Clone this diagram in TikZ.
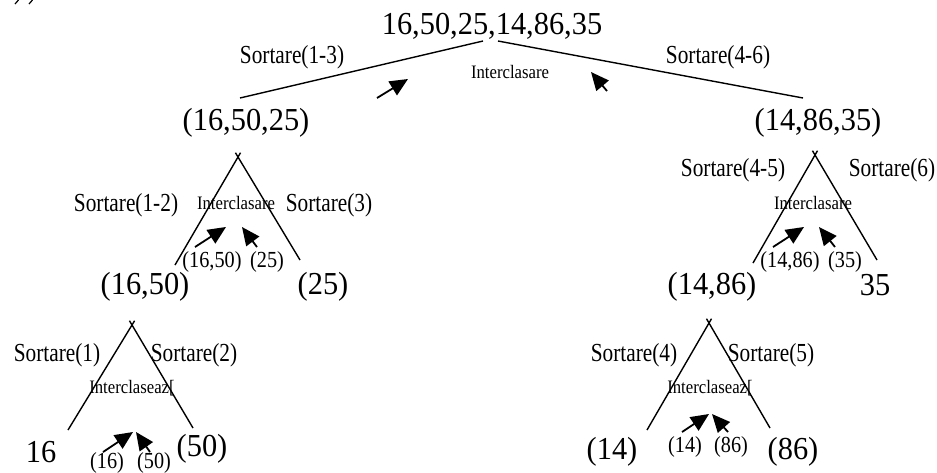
\documentclass[tikz,border=0pt]{standalone}
\usepackage{fontspec}
\setmainfont{Liberation Serif}
\newfontfamily\bigfont{Liberation Serif}[FakeStretch=0.95]
\newfontfamily\condfont{Liberation Serif}[FakeStretch=0.82]
\newfontfamily\smallcond{Liberation Serif}[FakeStretch=0.88]
\usetikzlibrary{arrows.meta}
\begin{document}
\begin{tikzpicture}[x=1pt,y=-1pt,
  big/.style={font=\bigfont\fontsize{32}{32}\selectfont, inner sep=0pt},
  lbl/.style={font=\condfont\fontsize{26}{26}\selectfont, inner sep=0pt},
  sub/.style={font=\smallcond\fontsize{23}{23}\selectfont, inner sep=0pt},
  merge/.style={font=\smallcond\fontsize{19}{19}\selectfont, inner sep=0pt},
  branch/.style={line width=1.4pt},
  apexline/.style={line width=1.4pt, shorten <=-5pt},
  feed/.style={line width=1.8pt, -{Triangle[length=18pt,width=16pt]}}]
\useasboundingbox (0,0) rectangle (937,472);

% clipped marks in the top-left corner
\draw[line width=1.2pt] (15,4) -- (18.5,0);
\draw[line width=1.2pt] (29,4) -- (32.5,0);

% ---------- root ----------
\node[big] (root) at (492,26) {16,50,25,14,86,35};
\node[big] (l1) at (246,123) {(16,50,25)};
\node[big] (r1) at (818,123) {(14,86,35)};
\coordinate (rootL) at (483,41);
\coordinate (rootR) at (498,41);
\coordinate (l1top) at (240,98);
\coordinate (r1top) at (803,98);
\draw[branch] (l1top) -- (rootL);
\draw[branch] (rootR) -- (r1top);
\node[lbl] (s13) at (292,57) {Sortare(1-3)};
\node[lbl] (s46) at (718,57) {Sortare(4-6)};
\node[merge] (m0) at (510,72) {Interclasare};
\coordinate (a0t) at (377,98);  \coordinate (a0h) at (408,79);
\coordinate (b0t) at (607,91);  \coordinate (b0h) at (591,72);
\draw[feed] (a0t) -- (a0h);
\draw[feed] (b0t) -- (b0h);

% ---------- left subtree (16,50,25) ----------
\coordinate (apL1) at (238,157);
\coordinate (eL1a) at (175,265);
\coordinate (eL1b) at (300,260);
\draw[apexline] (apL1) -- (eL1a);
\draw[apexline] (apL1) -- (eL1b);
\node[lbl] (s12) at (126,205) {Sortare(1-2)};
\node[merge] (m1) at (236,203) {Interclasare};
\node[lbl] (s3) at (329,205) {Sortare(3)};
\coordinate (a1t) at (195,247); \coordinate (a1h) at (226,227);
\coordinate (b1t) at (257,247); \coordinate (b1h) at (242,227);
\draw[feed] (a1t) -- (a1h);
\draw[feed] (b1t) -- (b1h);
\node[sub] (p1650) at (212,262) {(16,50)};
\node[sub] (p25) at (267,262) {(25)};
\node[big] (l2) at (145,287) {(16,50)};
\node[big] (l3) at (323,287) {(25)};

% ---------- right subtree (14,86,35) ----------
\coordinate (apR1) at (815,155);
\coordinate (eR1a) at (753,263);
\coordinate (eR1b) at (877,260);
\draw[apexline] (apR1) -- (eR1a);
\draw[apexline] (apR1) -- (eR1b);
\node[lbl] (s45) at (733,170) {Sortare(4-5)};
\node[lbl] (s6) at (892,170) {Sortare(6)};
\node[merge] (m2) at (813,203) {Interclasare};
\coordinate (a2t) at (773,247); \coordinate (a2h) at (804,227);
\coordinate (b2t) at (835,247); \coordinate (b2h) at (819,227);
\draw[feed] (a2t) -- (a2h);
\draw[feed] (b2t) -- (b2h);
\node[sub] (p1486) at (790,262) {(14,86)};
\node[sub] (p35) at (845,262) {(35)};
\node[big] (r2) at (712,287) {(14,86)};
\node[big] (r3) at (875,285) {35};

% ---------- left subtree (16,50) ----------
\coordinate (apL2) at (132,325);
\coordinate (eL2a) at (68,430);
\coordinate (eL2b) at (193,428);
\draw[apexline] (apL2) -- (eL2a);
\draw[apexline] (apL2) -- (eL2b);
\node[lbl] (s1) at (57,355) {Sortare(1)};
\node[lbl] (s2) at (194,355) {Sortare(2)};
\node[merge] (m3) at (132,388) {Interclaseaz[};
\coordinate (a3t) at (103,452); \coordinate (a3h) at (133,432);
\coordinate (b3t) at (150,452); \coordinate (b3h) at (136,432);
\draw[feed] (a3t) -- (a3h);
\draw[feed] (b3t) -- (b3h);
\node[big] (l4) at (41,452) {16};
\node[sub] (p16) at (107,463) {(16)};
\node[sub] (p50) at (154,463) {(50)};
\node[big] (l5) at (202,449) {(50)};

% ---------- right subtree (14,86) ----------
\coordinate (apR2) at (709,323);
\coordinate (eR2a) at (647,430);
\coordinate (eR2b) at (770,428);
\draw[apexline] (apR2) -- (eR2a);
\draw[apexline] (apR2) -- (eR2b);
\node[lbl] (s4) at (634,355) {Sortare(4)};
\node[lbl] (s5) at (771,355) {Sortare(5)};
\node[merge] (m4) at (710,388) {Interclaseaz[};
\coordinate (a4t) at (682,432); \coordinate (a4h) at (709,414);
\coordinate (b4t) at (728,432); \coordinate (b4h) at (712,414);
\draw[feed] (a4t) -- (a4h);
\draw[feed] (b4t) -- (b4h);
\node[sub] (p14) at (685,447) {(14)};
\node[sub] (p86) at (731,447) {(86)};
\node[big] (r4) at (612,452) {(14)};
\node[big] (r5) at (793,452) {(86)};
\end{tikzpicture}
\end{document}
